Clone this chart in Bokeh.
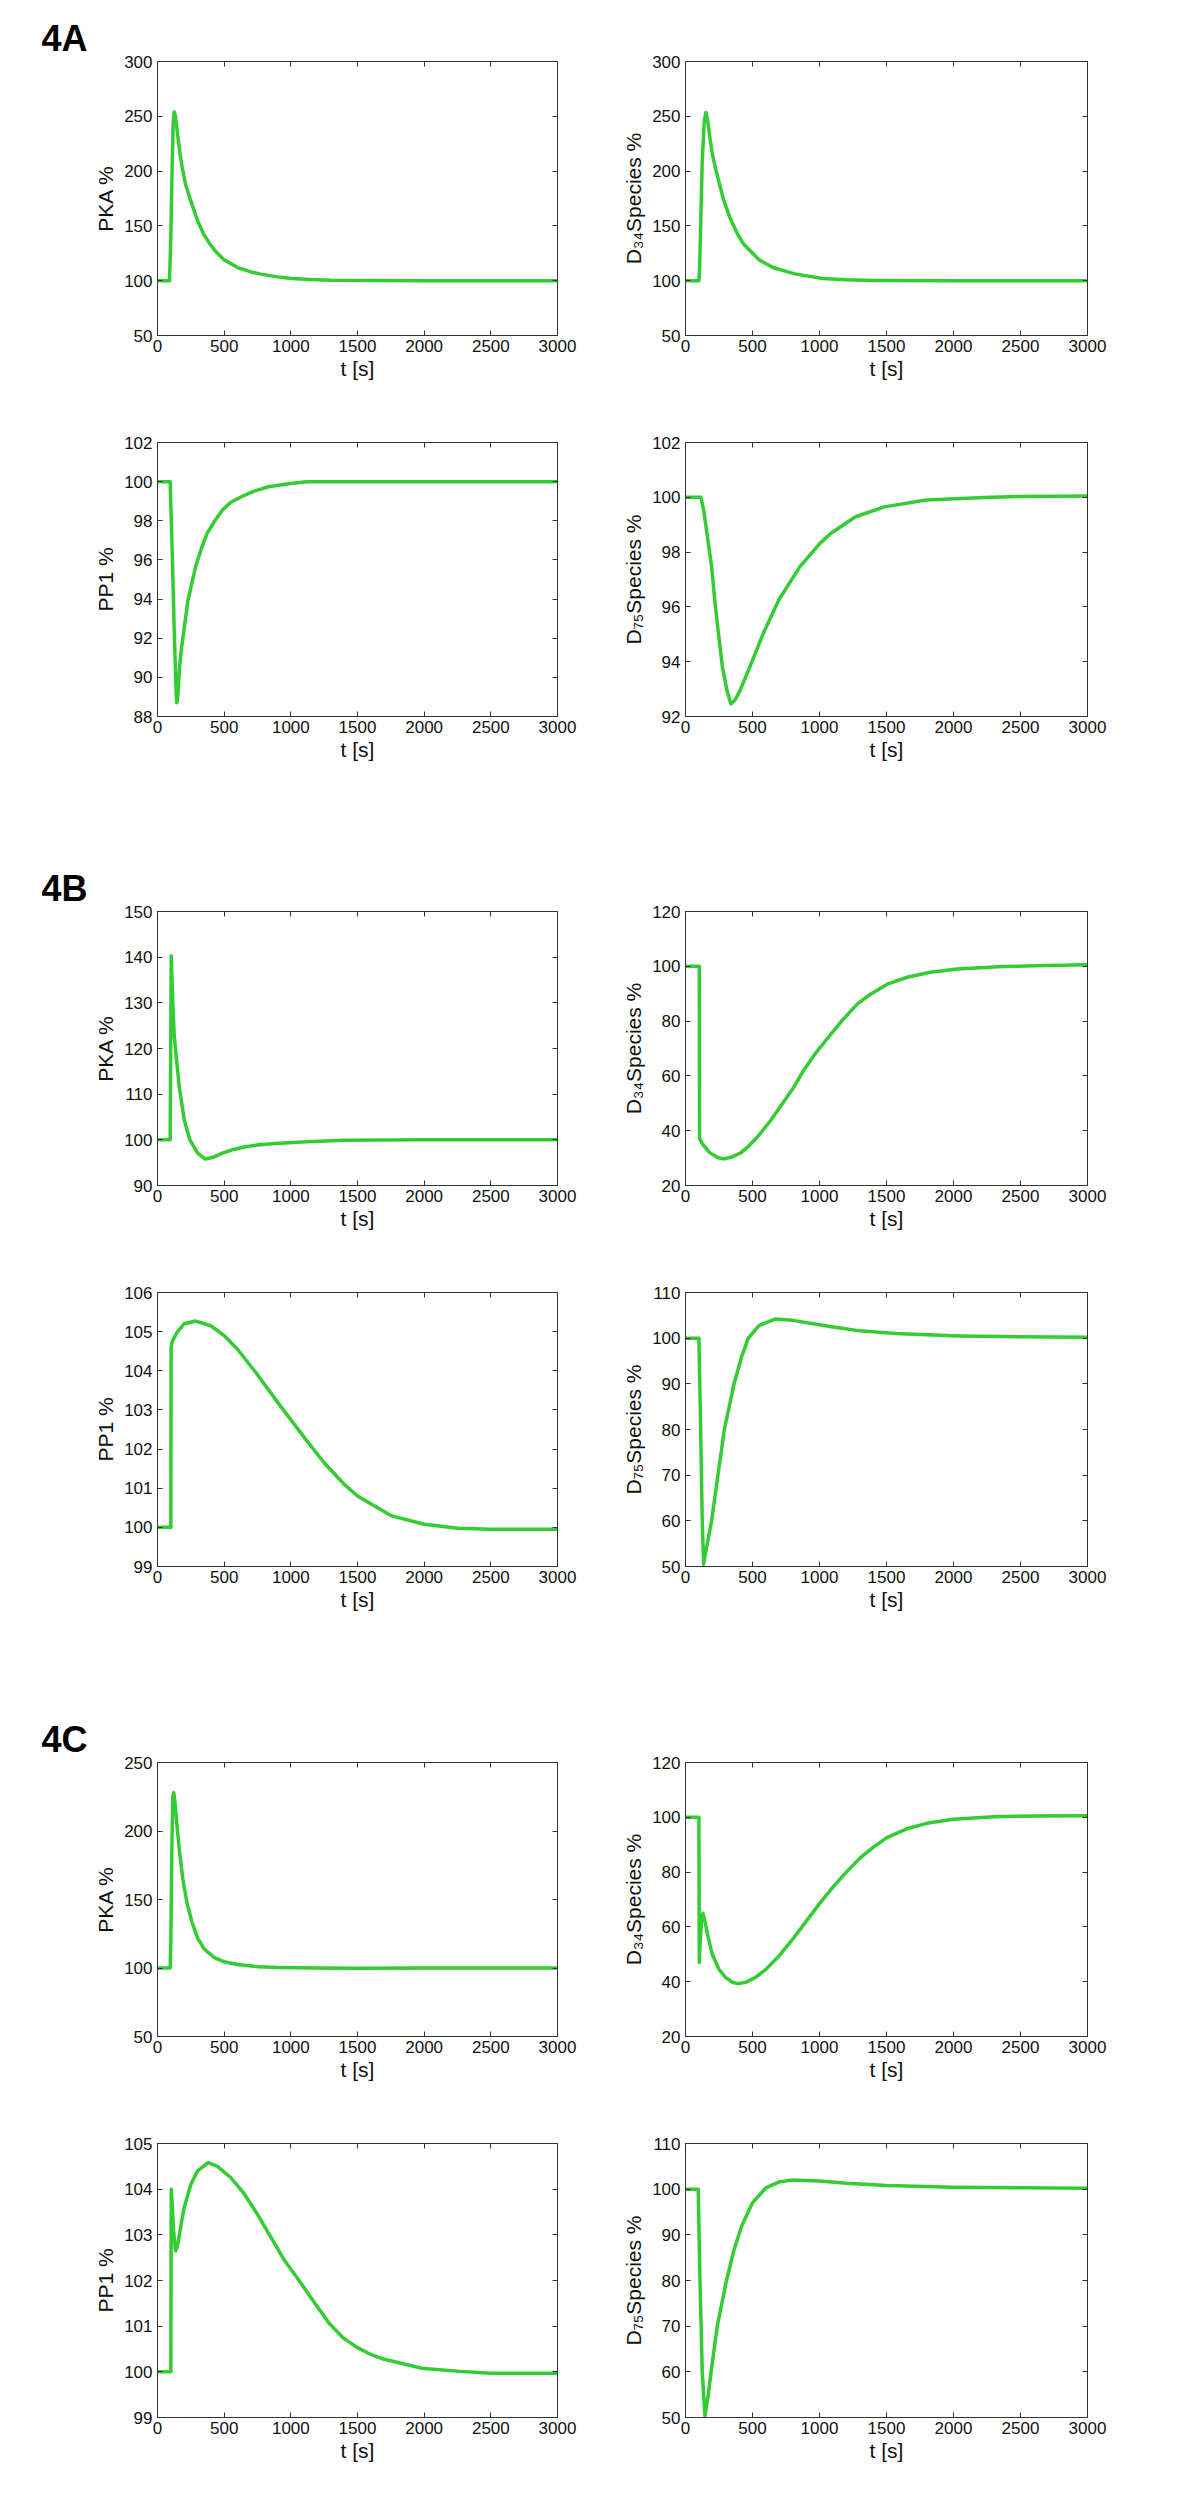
from bokeh.plotting import figure
from bokeh.layouts import column, row
from bokeh.models import Range1d, FixedTicker, LinearAxis, CustomJSTickFormatter
from bokeh.embed import file_html
from bokeh.resources import INLINE

# ---------------- data ----------------
X_TICKS = [0, 500, 1000, 1500, 2000, 2500, 3000]
X_LABEL = "t [s]"
SECTIONS = ["4A", "4B", "4C"]

LBL_PKA = "PKA %"
LBL_PP1 = "PP1 %"
LBL_D34 = "D\u2083\u2084Species %"
LBL_D75 = "D\u2087\u2085Species %"

# 4A
A_PKA_T = [0, 90, 100, 110, 118, 126, 135, 150, 170, 186, 210, 249, 300, 344, 390, 430, 500, 602, 700, 774, 900, 1003, 1150, 1300, 1600, 2000, 2500, 3000]
A_PKA_Y = [100, 100, 140, 205, 245, 254, 250, 234, 215, 203, 188, 173, 155, 143, 134, 127.5, 119, 112, 108, 106, 103.5, 102, 101, 100.4, 100.1, 100, 100, 100]
A_PKA_TICKS = [50, 100, 150, 200, 250, 300]

A_D34_T = [0, 100, 105, 115, 125, 140, 152, 165, 180, 200, 223, 250, 286, 330, 386, 430, 481, 550, 653, 750, 825, 1024, 1200, 1400, 2000, 3000]
A_D34_Y = [100, 100, 110, 160, 210, 245, 253.5, 247, 232, 216, 203, 190, 173, 158, 143, 134, 127.5, 119, 112, 108.5, 106, 102, 100.8, 100.2, 100, 100]
A_D34_TICKS = [50, 100, 150, 200, 250, 300]

A_PP1_T = [0, 95, 110, 125, 140, 145, 152, 165, 180, 195, 229, 286, 330, 372, 430, 487, 550, 630, 720, 831, 1000, 1117, 1300, 2000, 3000]
A_PP1_Y = [100, 100, 96.5, 92.5, 89.2, 88.7, 89.0, 90.5, 91.5, 92.25, 93.95, 95.66, 96.6, 97.36, 98.0, 98.55, 98.95, 99.23, 99.5, 99.74, 99.9, 99.99, 100, 100, 100]
A_PP1_TICKS = [88, 90, 92, 94, 96, 98, 100, 102]

A_D75_T = [0, 115, 137, 160, 195, 218, 246, 275, 309, 338, 370, 409, 481, 581, 696, 854, 1000, 1083, 1269, 1483, 1798, 2228, 2500, 3000]
A_D75_Y = [100, 100, 99.5, 98.68, 97.47, 96.25, 95.04, 93.82, 92.97, 92.46, 92.6, 92.97, 93.82, 95.04, 96.25, 97.47, 98.3, 98.68, 99.29, 99.65, 99.9, 99.99, 100.03, 100.05]
A_D75_TICKS = [92, 94, 96, 98, 100, 102]

# 4B
B_PKA_T = [0, 95, 100, 103, 108, 115, 125, 138, 163, 201, 243, 301, 358, 420, 487, 570, 659, 760, 888, 1117, 1400, 2000, 3000]
B_PKA_Y = [100, 100, 125, 140.3, 136, 129.8, 123, 118.9, 111.6, 104.3, 100, 97.1, 95.8, 96.2, 97.1, 97.9, 98.5, 98.9, 99.2, 99.6, 99.9, 100, 100]
B_PKA_TICKS = [90, 100, 110, 120, 130, 140, 150]

B_D34_T = [0, 103, 105, 123, 180, 240, 281, 340, 409, 470, 538, 638, 724, 810, 882, 968, 1068, 1168, 1283, 1383, 1512, 1655, 1827, 2028, 2371, 2700, 3000]
B_D34_Y = [100, 100, 37.2, 35.4, 32, 30.2, 29.7, 30.3, 31.8, 34.3, 37.8, 43.9, 49.9, 56.0, 62.1, 68.1, 74.2, 80.2, 86.3, 89.9, 93.6, 96.0, 97.8, 99.0, 99.9, 100.3, 100.6]
B_D34_TICKS = [20, 40, 60, 80, 100, 120]

B_PP1_T = [0, 100, 102, 110, 150, 200, 287, 400, 500, 600, 750, 900, 1000, 1100, 1250, 1400, 1500, 1750, 2000, 2250, 2500, 3000]
B_PP1_Y = [100, 100, 104.6, 104.75, 105.0, 105.2, 105.27, 105.15, 104.9, 104.55, 103.9, 103.2, 102.75, 102.3, 101.65, 101.1, 100.8, 100.3, 100.08, 99.98, 99.95, 99.95]
B_PP1_TICKS = [99, 100, 101, 102, 103, 104, 105, 106]

B_D75_T = [0, 100, 110, 125, 135, 150, 195, 242, 290, 362, 420, 469, 550, 672, 800, 1090, 1300, 1568, 2045, 2500, 3000]
B_D75_Y = [100, 100, 85, 60, 50.5, 53, 60, 70, 80, 90, 96, 100, 102.8, 104.2, 103.9, 102.5, 101.6, 101, 100.5, 100.3, 100.2]
B_D75_TICKS = [50, 60, 70, 80, 90, 100, 110]

# 4C
C_PKA_T = [0, 95, 100, 108, 115, 122, 130, 145, 165, 190, 220, 260, 300, 350, 420, 500, 600, 750, 900, 1200, 1500, 2000, 3000]
C_PKA_Y = [100, 100, 120, 190, 225, 228, 222, 205, 185, 165, 148, 133, 122, 114, 108, 104.5, 102.5, 101, 100.3, 100, 99.9, 100, 100]
C_PKA_TICKS = [50, 100, 150, 200, 250]

C_D34_T = [0, 100, 103, 110, 120, 130, 145, 170, 200, 250, 300, 350, 390, 450, 520, 600, 700, 800, 900, 1000, 1100, 1200, 1300, 1400, 1500, 1650, 1800, 2000, 2300, 2600, 3000]
C_D34_Y = [100, 100, 47, 55, 63, 65, 62, 56, 50, 44.5, 41.5, 39.8, 39.3, 39.8, 41.5, 44.5, 49.5, 55.5, 62, 68.5, 74.5, 80, 85, 89, 92.5, 95.8, 97.8, 99.3, 100.2, 100.5, 100.6]
C_D34_TICKS = [20, 40, 60, 80, 100, 120]

C_PP1_T = [0, 100, 103, 110, 120, 135, 150, 175, 200, 250, 300, 380, 450, 550, 650, 750, 850, 950, 1062, 1180, 1291, 1390, 1493, 1600, 1694, 1982, 2267, 2497, 3000]
C_PP1_Y = [100, 100, 104.0, 103.7, 103.1, 102.65, 102.75, 103.2, 103.6, 104.1, 104.4, 104.58, 104.5, 104.25, 103.9, 103.45, 102.95, 102.45, 102.0, 101.5, 101.05, 100.75, 100.54, 100.38, 100.28, 100.08, 100.01, 99.97, 99.97]
C_PP1_TICKS = [99, 100, 101, 102, 103, 104, 105]

C_D75_T = [0, 95, 108, 125, 145, 170, 191, 237, 306, 360, 420, 500, 600, 700, 800, 1000, 1200, 1500, 2000, 2500, 3000]
C_D75_Y = [100, 100, 80, 60, 50.4, 55, 60, 70, 80, 86.5, 92, 97, 100.3, 101.6, 102.0, 101.8, 101.3, 100.8, 100.4, 100.3, 100.2]
C_D75_TICKS = [50, 60, 70, 80, 90, 100, 110]

# ---------------- styling ----------------
FONT = "Liberation Sans"
LINE_COLOR = "#33cc33"
AX_COLOR = "#333333"
FIG_W = 600
FRAME_H = 274
ROW_HEIGHTS = [389, 469, 381, 470, 381, 410]
ROW_TOPS = [61, 53, 53, 53, 53, 53]


def make_panel(t, y, yticks, ylabel, left_col, height, top_b, section=None):
    if left_col:
        bl, fw = 157, 400
    else:
        bl, fw = 85, 402
    br = FIG_W - bl - fw
    bb = height - top_b - FRAME_H
    y0, y1 = yticks[0], yticks[-1]
    p = figure(width=FIG_W, height=height, output_backend="svg", toolbar_location=None,
               x_range=Range1d(0, 3000), y_range=Range1d(y0, y1),
               min_border_left=bl, min_border_right=br, min_border_top=top_b, min_border_bottom=bb,
               x_axis_label=X_LABEL, y_axis_label=ylabel)
    p.grid.visible = False
    p.background_fill_color = "white"
    p.border_fill_color = "white"
    p.outline_line_color = AX_COLOR
    p.outline_line_width = 1

    if section is not None:
        p.title.text = section
        p.title.align = "left"
        p.title.offset = -116
        p.title.standoff = 6
        p.title.text_font = FONT
        p.title.text_font_size = "36px"
        p.title.text_font_style = "bold"
        p.title.text_color = "black"

    p.xaxis.ticker = FixedTicker(ticks=X_TICKS)
    p.yaxis.ticker = FixedTicker(ticks=yticks)
    p.xaxis.major_label_standoff = 4
    p.yaxis.major_label_standoff = 5
    p.xaxis.axis_label_standoff = 2
    p.yaxis.axis_label_standoff = 4

    # extra tick-only axes (box style)
    p.add_layout(LinearAxis(ticker=FixedTicker(ticks=X_TICKS),
                            formatter=CustomJSTickFormatter(code="return ''")), "above")
    p.add_layout(LinearAxis(ticker=FixedTicker(ticks=yticks),
                            formatter=CustomJSTickFormatter(code="return ''")), "right")

    for ax in p.axis:
        ax.major_tick_in = 5
        ax.major_tick_out = 0
        ax.minor_tick_line_color = None
        ax.axis_line_color = AX_COLOR
        ax.major_tick_line_color = AX_COLOR
        ax.major_label_text_font = FONT
        ax.major_label_text_font_size = "17px"
        ax.major_label_text_color = "#111111"
        ax.axis_label_text_font = FONT
        ax.axis_label_text_font_size = "21px"
        ax.axis_label_text_font_style = "normal"
        ax.axis_label_text_color = "#111111"
    p.xaxis[0].axis_label_text_font_size = "22px"

    p.line(t, y, line_color=LINE_COLOR, line_width=3.5, line_join="round")
    return p


rows_spec = [
    ((A_PKA_T, A_PKA_Y, A_PKA_TICKS, LBL_PKA), (A_D34_T, A_D34_Y, A_D34_TICKS, LBL_D34), SECTIONS[0]),
    ((A_PP1_T, A_PP1_Y, A_PP1_TICKS, LBL_PP1), (A_D75_T, A_D75_Y, A_D75_TICKS, LBL_D75), None),
    ((B_PKA_T, B_PKA_Y, B_PKA_TICKS, LBL_PKA), (B_D34_T, B_D34_Y, B_D34_TICKS, LBL_D34), SECTIONS[1]),
    ((B_PP1_T, B_PP1_Y, B_PP1_TICKS, LBL_PP1), (B_D75_T, B_D75_Y, B_D75_TICKS, LBL_D75), None),
    ((C_PKA_T, C_PKA_Y, C_PKA_TICKS, LBL_PKA), (C_D34_T, C_D34_Y, C_D34_TICKS, LBL_D34), SECTIONS[2]),
    ((C_PP1_T, C_PP1_Y, C_PP1_TICKS, LBL_PP1), (C_D75_T, C_D75_Y, C_D75_TICKS, LBL_D75), None),
]

rows = []
for (ls, rs, sec), h, tb in zip(rows_spec, ROW_HEIGHTS, ROW_TOPS):
    lp = make_panel(*ls, left_col=True, height=h, top_b=tb, section=sec)
    rp = make_panel(*rs, left_col=False, height=h, top_b=tb)
    rows.append(row(lp, rp))

layout = column(*rows)
open("out.html", "w").write(file_html(layout, INLINE, "Figure 4"))
